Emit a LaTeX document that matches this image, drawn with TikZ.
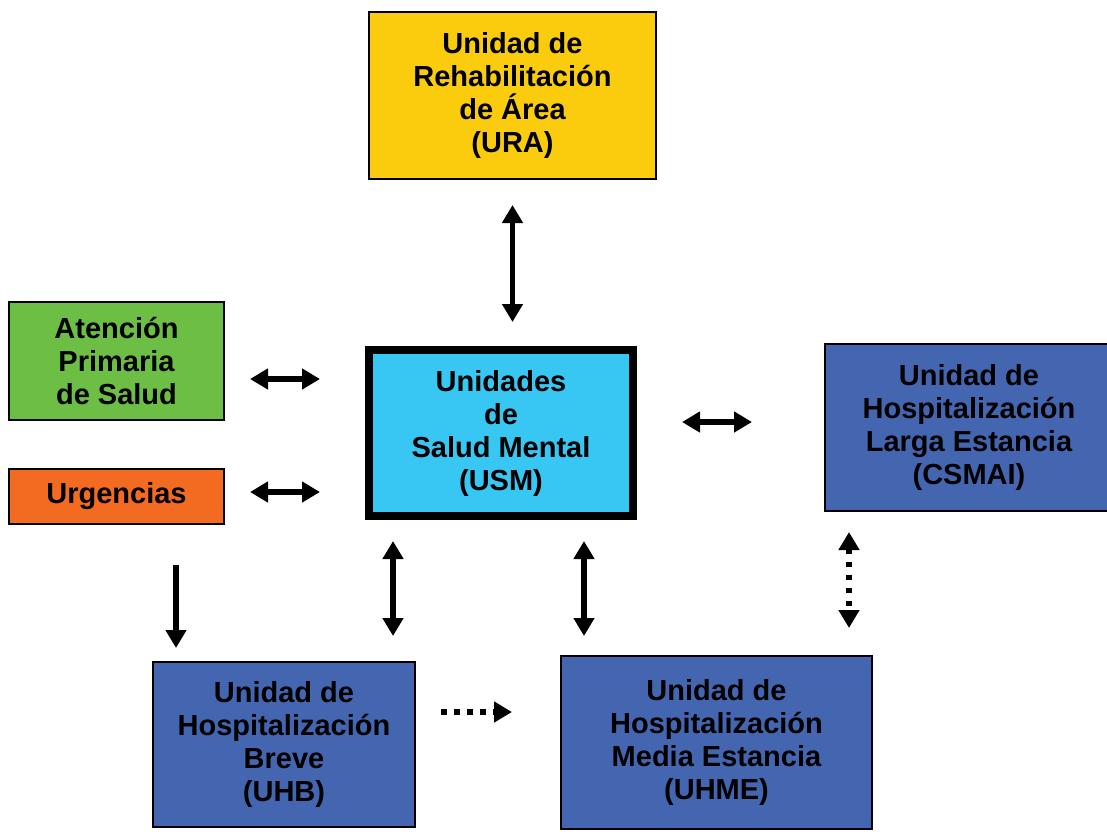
\documentclass[tikz,border=0pt]{standalone}
\usepackage{fontspec}
\setmainfont{Liberation Sans}
\usetikzlibrary{arrows.meta, calc}

\definecolor{uraYellow}{RGB}{251,204,14}
\definecolor{apsGreen}{RGB}{108,190,69}
\definecolor{urgOrange}{RGB}{243,107,33}
\definecolor{usmBlue}{RGB}{56,199,243}
\definecolor{hospBlue}{RGB}{68,102,177}

\begin{document}
\begin{tikzpicture}[
    x=1pt, y=-1pt,
    box/.style={rectangle, draw, line width=2pt, inner sep=0pt, align=center,
        font=\fontsize{29}{33}\selectfont\bfseries},
    dbl/.style={{Triangle[length=18pt, width=20pt]}-{Triangle[length=18pt, width=20pt]}, line width=5.5pt},
    sgl/.style={-{Triangle[length=18pt, width=20pt]}, line width=5.5pt},
    dots/.style={line width=5.5pt, dash pattern=on 5.5pt off 7.5pt}
]
\useasboundingbox (0,0) rectangle (1107,831);
\node[box, fill=uraYellow, minimum width=287pt, minimum height=167pt] (ura) at (512.5,95.5) {Unidad de\\Rehabilitación\\de Área\\(URA)};
\node[box, fill=apsGreen, minimum width=215pt, minimum height=118pt] (aps) at (116.5,361) {Atención\\Primaria\\de Salud};
\node[box, fill=urgOrange, minimum width=215pt, minimum height=55pt] (urg) at (116.5,496.5) {Urgencias};
\node[box, fill=usmBlue, line width=8pt, minimum width=264pt, minimum height=166pt] (usm) at (501,433) {Unidades\\de\\Salud Mental\\(USM)};
\node[box, fill=hospBlue, minimum width=288pt, minimum height=167pt] (csmai) at (969,427.5) {Unidad de\\Hospitalización\\Larga Estancia\\(CSMAI)};
\node[box, fill=hospBlue, minimum width=262pt, minimum height=165pt] (uhb) at (284,744.5) {Unidad de\\Hospitalización\\Breve\\(UHB)};
\node[box, fill=hospBlue, minimum width=311pt, minimum height=173pt] (uhme) at (716.5,742.5) {Unidad de\\Hospitalización\\Media Estancia\\(UHME)};
% solid connectors
\draw[dbl, shorten <=25pt, shorten >=24pt] (ura.south) -- (ura.south |- usm.north);
\draw[dbl, shorten <=25pt, shorten >=45pt] ([yshift=-18pt]aps.east) -- ([yshift=-18pt]aps.east -| usm.west);
\draw[dbl, shorten <=25pt, shorten >=45pt] ([yshift=4.5pt]urg.east) -- ([yshift=4.5pt]urg.east -| usm.west);
\draw[dbl, shorten <=45pt, shorten >=72pt] ([yshift=11pt]usm.east) -- ([yshift=11pt]usm.east -| csmai.west);
\draw[dbl, shorten <=21pt, shorten >=25pt] ([xshift=-108pt]usm.south) -- ([xshift=-108pt]usm.south |- uhb.north);
\draw[dbl, shorten <=21pt, shorten >=19pt] ([xshift=83pt]usm.south) -- ([xshift=83pt]usm.south |- uhme.north);
\draw[sgl, shorten <=40pt, shorten >=13pt] ([xshift=59.5pt]urg.south) -- ([xshift=59.5pt]urg.south |- uhb.north);
% dotted connectors
\draw[sgl, dots, shorten <=25pt, shorten >=48pt] ([yshift=32.5pt]uhb.east) -- ([yshift=32.5pt]uhb.east -| uhme.west);
\draw[dbl, dots, shorten <=20pt, shorten >=27pt] ([xshift=-120pt]csmai.south) -- ([xshift=-120pt]csmai.south |- uhme.north);
\end{tikzpicture}
\end{document}
